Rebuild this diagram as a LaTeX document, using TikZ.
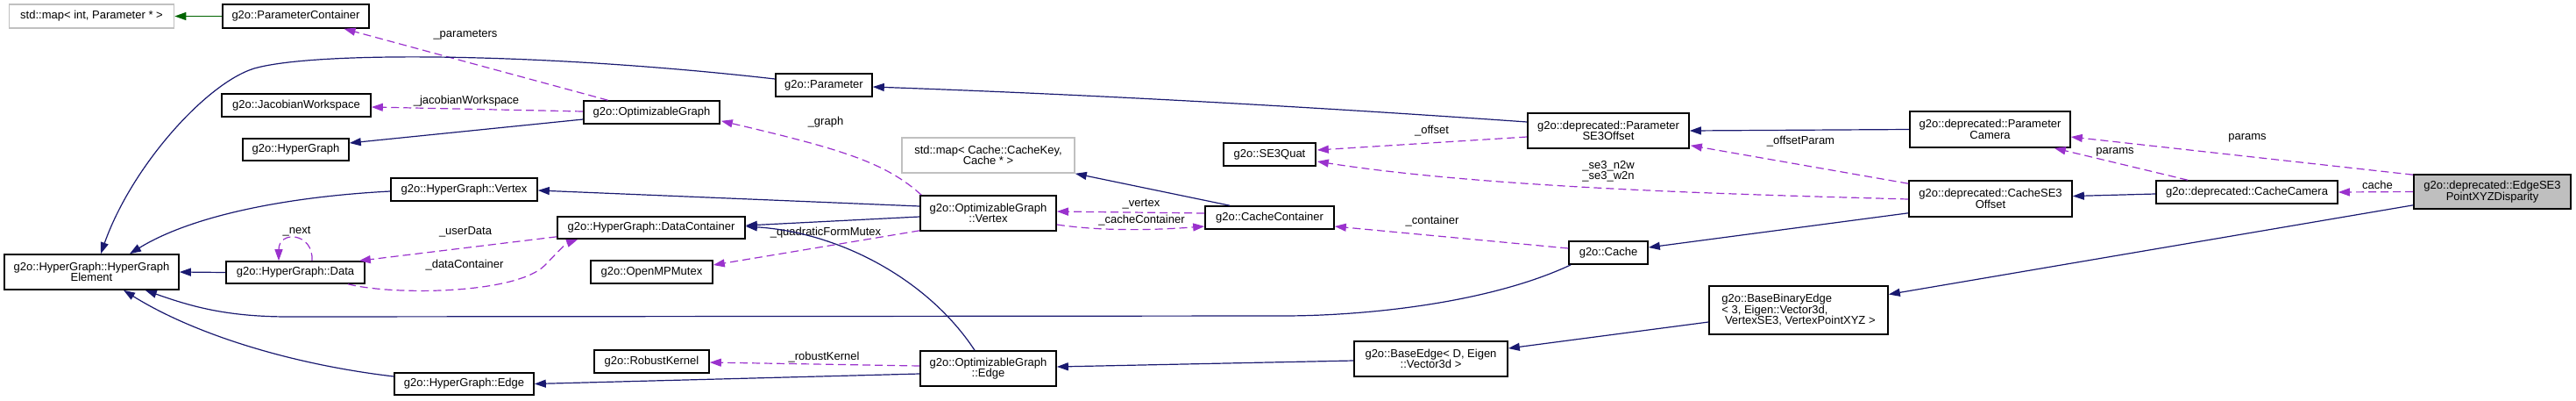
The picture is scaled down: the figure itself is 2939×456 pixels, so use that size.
\documentclass[tikz,border=0pt]{standalone}
\usepackage{fontspec}
\setmainfont{Liberation Sans}
\usetikzlibrary{arrows.meta,calc}
\definecolor{navy}{HTML}{191970}
\definecolor{purp}{HTML}{9A32CD}
\definecolor{dgreen}{HTML}{006400}
\definecolor{nodegray}{HTML}{BFBFBF}
\definecolor{mapgray}{HTML}{C0C0C0}
\newcommand{\dfont}{\fontsize{6.5}{6.2}\selectfont}
\begin{document}
\begin{tikzpicture}[x=0.5pt,y=-0.5pt,
  box/.style={draw=black,line width=0.8pt,fill=white,inner sep=0pt,font=\dfont,align=center},
  gbox/.style={box,draw=mapgray},
  fbox/.style={box,fill=nodegray},
  lbl/.style={font=\dfont,inner sep=0pt,align=center},
  tip/.style={-{Triangle[length=6.5pt,width=4.5pt]}},
  inh/.style={draw=navy,line width=0.6pt,tip},
  tmpl/.style={draw=dgreen,line width=0.6pt,tip},
  use/.style={draw=purp,line width=0.6pt,dash pattern=on 4.5pt off 2.5pt,tip}]
\useasboundingbox (0,0) rectangle (2939,456);

% nodes
\node[gbox,minimum width=94pt,minimum height=13.5pt] (mapint) at (104.5,18.5) {std::map< int, Parameter * >};
\node[box,minimum width=83.5pt,minimum height=13.5pt] (paramcont) at (337.5,18.5) {g2o::ParameterContainer};
\node[box,minimum width=85pt,minimum height=13pt] (jacob) at (338,120) {g2o::JacobianWorkspace};
\node[box,minimum width=60.5pt,minimum height=12.5pt] (hypergraph) at (337.5,170.5) {g2o::HyperGraph};
\node[box,minimum width=83.5pt,minimum height=13pt] (hgvertex) at (529.5,216) {g2o::HyperGraph::Vertex};
\node[box,minimum width=77.5pt,minimum height=13pt] (optgraph) at (743.5,128) {g2o::OptimizableGraph};
\node[box,minimum width=55pt,minimum height=13pt] (parameter) at (940,97) {g2o::Parameter};
\node[gbox,minimum width=98.5pt,minimum height=20pt] (mapcache) at (1127.5,177) {std::map< Cache::CacheKey,\\ Cache * >};
\node[box,minimum width=77.5pt,minimum height=20pt] (ogvertex) at (1127.5,243) {g2o::OptimizableGraph\\ ::Vertex};
\node[box,minimum width=107pt,minimum height=12.5pt] (datacont) at (743,259.5) {g2o::HyperGraph::DataContainer};
\node[box,minimum width=69.5pt,minimum height=13pt] (mutex) at (743.5,310) {g2o::OpenMPMutex};
\node[box,minimum width=65.5pt,minimum height=13pt] (robust) at (743.5,412) {g2o::RobustKernel};
\node[box,minimum width=77.5pt,minimum height=20pt] (ogedge) at (1127.5,420) {g2o::OptimizableGraph\\ ::Edge};
\node[box,minimum width=99.5pt,minimum height=20pt] (hge) at (104.5,310) {g2o::HyperGraph::HyperGraph\\ Element};
\node[box,minimum width=79pt,minimum height=12.5pt] (data) at (337,310.5) {g2o::HyperGraph::Data};
\node[box,minimum width=79.5pt,minimum height=12.5pt] (hgedge) at (529.5,437.5) {g2o::HyperGraph::Edge};
\node[box,minimum width=92pt,minimum height=20pt] (pse3) at (1835,149) {g2o::deprecated::Parameter\\ SE3Offset};
\node[box,minimum width=52.5pt,minimum height=13pt] (se3quat) at (1448.5,176) {g2o::SE3Quat};
\node[box,minimum width=73.5pt,minimum height=13pt] (cachecont) at (1448.5,248) {g2o::CacheContainer};
\node[box,minimum width=45pt,minimum height=13pt] (cache) at (1835,288) {g2o::Cache};
\node[box,align=left,minimum width=102pt,minimum height=27.5pt] (bbe) at (2052,353.5) {g2o::BaseBinaryEdge\\ < 3, Eigen::Vector3d,\\ \hspace*{1.8pt}VertexSE3, VertexPointXYZ >};
\node[box,minimum width=87.5pt,minimum height=20pt] (baseedge) at (1632.5,409) {g2o::BaseEdge< D, Eigen\\ ::Vector3d >};
\node[box,minimum width=91.5pt,minimum height=20.5pt] (pcam) at (2270.5,147.5) {g2o::deprecated::Parameter\\ Camera};
\node[box,minimum width=93pt,minimum height=20.5pt] (cse3) at (2271,226.5) {g2o::deprecated::CacheSE3\\ Offset};
\node[box,minimum width=103.5pt,minimum height=13pt] (cachecam) at (2563.5,219) {g2o::deprecated::CacheCamera};
\node[fbox,minimum width=89.5pt,minimum height=19.5pt] (edge) at (2843.5,218.5) {g2o::deprecated::EdgeSE3\\ PointXYZDisparity};

% edge labels
\node[lbl] (l-params1) at (531,40) {\_parameters};
\node[lbl] (l-jacob) at (532,115) {\_jacobianWorkspace};
\node[lbl] (l-mutex) at (942,265) {\_quadraticFormMutex};
\node[lbl] (l-robust) at (940,407) {\_robustKernel};
\node[lbl] (l-next) at (338.5,264) {\_next};
\node[lbl] (l-user) at (531,264) {\_userData};
\node[lbl] (l-dcont) at (530,302) {\_dataContainer};
\node[lbl] (l-graph) at (942,139) {\_graph};
\node[lbl] (l-vertex) at (1302,233) {\_vertex};
\node[lbl] (l-ccont) at (1302.5,251.5) {\_cacheContainer};
\node[lbl] (l-cont) at (1634,252) {\_container};
\node[lbl] (l-oparam) at (2054.5,161) {\_offsetParam};
\node[lbl] (l-se3) at (1835,195.5) {\_se3\_n2w\\ \_se3\_w2n};
\node[lbl] (l-offset) at (1633.5,149) {\_offset};
\node[lbl] (l-params2) at (2413,173) {params};
\node[lbl] (l-params3) at (2564,157) {params};
\node[lbl] (l-cache) at (2712.5,210.5) {cache};

% connectors
\draw[tmpl] (paramcont.west) -- (mapint.east);
\draw[use] ($(optgraph.north)+(-50,0)$) -- ($(paramcont.south)+(55,0)$);
\draw[use] ($(optgraph.west)+(0,-1)$) -- ($(jacob.east)+(0,2)$);
\draw[inh] ($(optgraph.west)+(0,8)$) -- ($(hypergraph.east)+(0,-7.5)$);
\draw[inh] ($(parameter.west)+(0,-7)$) .. controls (620,60) and (360,58) .. (290,78) .. controls (235,95) and (150,190) .. ($(hge.north)+(10.5,0)$);
\draw[inh] ($(hgvertex.west)+(0,2)$) .. controls (330,224) and (220,245) .. ($(hge.north)+(43.5,0)$);
\draw[inh] ($(ogvertex.west)+(0,-8)$) -- ($(hgvertex.east)+(0,1)$);
\draw[inh] ($(ogvertex.west)+(0,4)$) -- ($(datacont.east)+(0,-2.5)$);
\draw[use] ($(ogvertex.south west)+(0,-1)$) -- ($(mutex.east)+(0,-8)$);
\draw[inh] ($(ogedge.north)+(-15.5,0)$) .. controls (1060,320) and (960,265) .. ($(datacont.east)+(0,-1.5)$);
\draw[use] ($(ogedge.west)+(0,-3)$) -- ($(robust.east)+(0,1)$);
\draw[inh] ($(ogedge.west)+(0,6)$) -- (hgedge.east);
\draw[inh] ($(hgedge.west)+(0,-8.5)$) .. controls (330,415) and (220,380) .. ($(hge.south)+(36.5,0)$);
\draw[inh] (data.west) -- (hge.east);
\draw[use] ($(data.north)+(19,0)$) .. controls (358,265) and (318,262) .. ($(data.north)+(-19,0)$);
\draw[use] ($(datacont.south west)+(0,-3)$) -- ($(data.north east)+(-7,0)$);
\draw[use] ($(data.south)+(60,0)$) .. controls (450,337) and (590,335) .. (622,302) .. controls (638,285.5) and (645,278) .. ($(datacont.south west)+(24,0)$);
\draw[use] ($(ogvertex.north west)+(2,0)$) .. controls (1010,185) and (960,170) .. ($(optgraph.south east)+(1,-4)$);
\draw[inh] ($(cachecont.north)+(-45.5,0)$) -- (mapcache.south east);
\draw[use] ($(cachecont.west)+(0,-5)$) -- ($(ogvertex.east)+(0,-2)$);
\draw[use] ($(ogvertex.east)+(0,13)$) .. controls (1260,264) and (1320,262) .. ($(cachecont.west)+(0,10)$);
\draw[use] ($(cache.west)+(0,-5)$) -- ($(cachecont.east)+(0,10)$);
\draw[inh] ($(cache.south west)+(3,0)$) .. controls (1700,345) and (1560,360) .. (1463,360) -- (330,361) .. controls (260,361) and (220,350) .. ($(hge.south east)+(-39,0)$);
\draw[inh] ($(cse3.south west)+(0,-5)$) -- ($(cache.east)+(0,-6)$);
\draw[use] ($(cse3.north west)+(0,4)$) -- ($(pse3.south east)+(1,-4)$);
\draw[use] ($(cse3.west)+(0,0.5)$) .. controls (2000,222) and (1700,215) .. ($(se3quat.east)+(1,8)$);
\draw[inh] ($(pse3.west)+(0,-10)$) .. controls (1500,122) and (1250,108) .. ($(parameter.east)+(0,2)$);
\draw[use] ($(pse3.west)+(0,7)$) -- ($(se3quat.east)+(1,-5)$);
\draw[inh] (pcam.west) -- (pse3.east);
\draw[inh] ($(cachecam.west)+(0,2)$) -- ($(cse3.east)+(0,-3)$);
\draw[use] ($(cachecam.north)+(-67.5,0)$) -- ($(pcam.south east)+(-19,0)$);
\draw[use] ($(edge.north west)+(0,1)$) -- ($(pcam.east)+(0,8.5)$);
\draw[use] (edge.west) -- (cachecam.east);
\draw[inh] ($(edge.south west)+(0,-5)$) -- ($(bbe.east)+(0,-18)$);
\draw[inh] ($(bbe.west)+(0,13.5)$) -- ($(baseedge.east)+(0,-12)$);
\draw[inh] ($(baseedge.west)+(0,2)$) -- ($(ogedge.east)+(0,-2)$);
\end{tikzpicture}
\end{document}
